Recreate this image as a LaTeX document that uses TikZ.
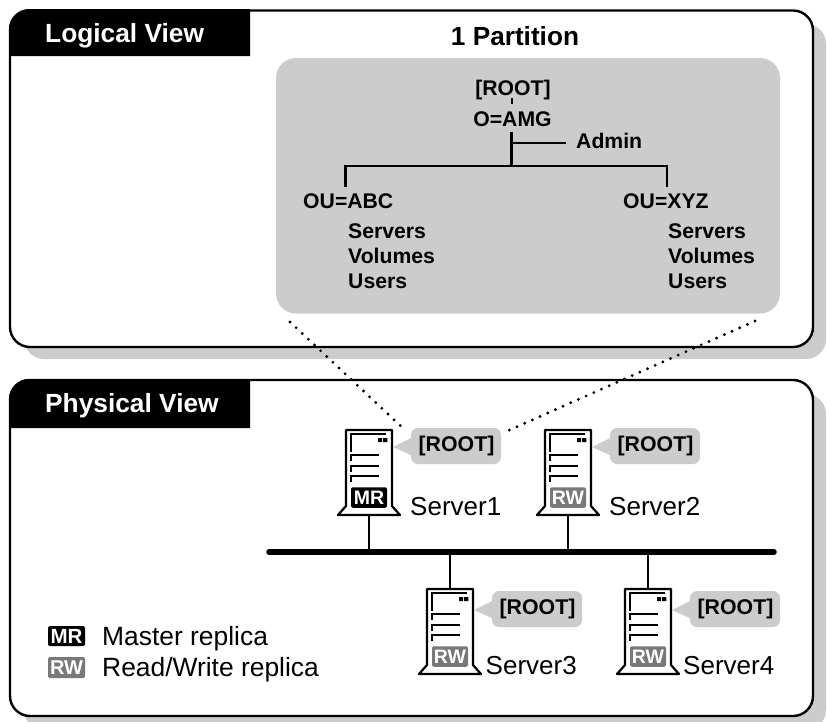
\documentclass[tikz,border=0pt]{standalone}
\usepackage{fontspec}
\setmainfont{Liberation Sans}
\usetikzlibrary{calc}
\definecolor{lightshade}{gray}{0.8}
\definecolor{rwgray}{gray}{0.47}
\tikzset{
 panel/.style={draw=black,line width=2.4pt,fill=white,rounded corners=20pt},
 panelshadow/.style={fill=lightshade,rounded corners=20pt},
 viewtitle/.style={font=\bfseries\fontsize{26.3}{28}\selectfont,text=white,anchor=base west,inner sep=0pt},
 treetext/.style={font=\bfseries\fontsize{21.2}{23}\selectfont,inner sep=0pt,anchor=base west},
 treeline/.style={line width=2.2pt},
 srvlabel/.style={font=\fontsize{26}{28}\selectfont,inner sep=0pt,anchor=base west},
 rootlabel/.style={font=\bfseries\fontsize{21.3}{23}\selectfont,inner sep=0pt},
 legendtext/.style={font=\fontsize{26.4}{28}\selectfont,inner sep=0pt,anchor=base west},
 dotlink/.style={line width=3.2pt,line cap=round,dash pattern=on 0pt off 8.4pt},
 linkline/.style={line width=2.2pt},
 server/.pic={
  \draw[line width=2.2pt,fill=white,line join=round] (-23,-43)--(23,-43)--(23,33)--(31,42)--(-31,42)--(-23,33)--cycle;
  \draw[line width=1.1pt] (-18,-21)--(-18,-39)--(17,-39);
  \fill (9,-35) rectangle (13.2,-31) (14.2,-35) rectangle (18.4,-31);
  \draw[line width=1.1pt] (-18,-12)--(-18,-18)--(10,-18);
  \draw[line width=1.1pt] (-18,-1)--(-18,-7)--(10,-7);
  \draw[line width=1.1pt] (-18,9)--(-18,3)--(10,3);
 },
}
% name, x, y, badge, badge colour, label, label x-shift, bubble centre y
\newcommand{\serverbox}[8]{%
 \pic at (#2,#3) {server};
 \node[fill=#5,rounded corners=2pt,minimum width=36pt,minimum height=20.5pt,inner sep=0pt] (#1badge) at (#2,#3+24.5) {\textcolor{white}{\bfseries\fontsize{19.5}{20}\selectfont #4}};
 \coordinate (#1foot) at (#2,#3+42);
 \node[srvlabel] (#1label) at (#2+#7,#3+42) {#6};
 \fill[lightshade,rounded corners=7pt] (#2+42,#8-18) rectangle (#2+132,#8+18);
 \fill[lightshade] (#2+24,#8+1) -- (#2+46,#8-10) -- (#2+46,#8+11) -- cycle;
 \node[rootlabel] (#1root) at (#2+87.5,#8) {[ROOT]};
}
\begin{document}
\begin{tikzpicture}[x=1pt,y=-1pt]
\useasboundingbox (0,0) rectangle (827,721);
\begin{scope}
\clip (0,0) rectangle (827,721);
% panels
\fill[panelshadow] (24,24) rectangle (826,359);
\fill[panelshadow] (24,394) rectangle (826,730);
\draw[panel] (10,10.5) rectangle (813,347);
\draw[panel] (10,380) rectangle (813,716);
\end{scope}
% title tabs
\fill[black] (9,56) [rounded corners=20pt] -- (9,9) [sharp corners] -- (250,9) -- (250,56) -- cycle;
\fill[black] (9,428) [rounded corners=20pt] -- (9,379) [sharp corners] -- (250,379) -- (250,428) -- cycle;
\node[viewtitle] (logical) at (45,42) {Logical View};
\node[viewtitle] (physical) at (45,412) {Physical View};
% logical view
\node[font=\bfseries\fontsize{26.2}{28}\selectfont,inner sep=0pt,anchor=base] (part) at (515,45) {1 Partition};
\fill[lightshade,rounded corners=20pt] (276,58) rectangle (780,313.5);
\node[treetext,anchor=base] (root) at (513,95) {[ROOT]};
\node[treetext,anchor=base] (amg) at (512.5,126) {O=AMG};
\node[treetext] (admin) at (576,148.5) {Admin};
\node[treetext] (abc) at (303,208) {OU=ABC};
\node[treetext] (xyz) at (623,208) {OU=XYZ};
\node[treetext] (abc1) at (348,238) {Servers};
\node[treetext] (abc2) at (348,263.5) {Volumes};
\node[treetext] (abc3) at (348,288.5) {Users};
\node[treetext] (xyz1) at (668,238) {Servers};
\node[treetext] (xyz2) at (668,263.5) {Volumes};
\node[treetext] (xyz3) at (668,288.5) {Users};
\coordinate (junction) at (511.5,166);
\coordinate (abctop) at (345.5,187);
\coordinate (xyztop) at (667,187);
\coordinate (adminend) at (566,143);
\draw[line width=1.8pt] (511.7,98) -- (511.7,104);
\draw[treeline] (511.5,132) -- (junction);
\draw[treeline] (511.5,143) -- (adminend);
\draw[treeline] (abctop) |- (junction) -| (xyztop);
% physical view
\draw[line width=5.5pt,line cap=round] (269,552) coordinate (busL) -- (774,552) coordinate (busR);
\serverbox{s1}{369}{473}{MR}{black}{Server1}{41}{446}
\serverbox{s2}{568}{473}{RW}{rwgray}{Server2}{41}{446}
\serverbox{s3}{450}{632}{RW}{rwgray}{Server3}{35.5}{609}
\serverbox{s4}{648}{632}{RW}{rwgray}{Server4}{35}{609}
\draw[linkline] (s1foot) -- (369,552);
\draw[linkline] (s2foot) -- (568,552);
\draw[linkline] (450,552) -- (450,589);
\draw[linkline] (648,552) -- (648,589);
% dotted mapping
\draw[dotlink] (290,322) -- (405,430);
\draw[dotlink] (755,321) -- (505,432);
% legend
\node[fill=black,rounded corners=1.5pt,minimum width=37pt,minimum height=20pt,inner sep=0pt] (mr) at (66.5,636) {\textcolor{white}{\bfseries\fontsize{20.5}{21}\selectfont MR}};
\node[fill=rwgray,rounded corners=1.5pt,minimum width=37pt,minimum height=21pt,inner sep=0pt] (rw) at (66.5,667.5) {\textcolor{white}{\bfseries\fontsize{20}{21}\selectfont RW}};
\node[legendtext] (mrt) at (102,645) {Master replica};
\node[legendtext] (rwt) at (102,676) {Read/Write replica};
\end{tikzpicture}
\end{document}
